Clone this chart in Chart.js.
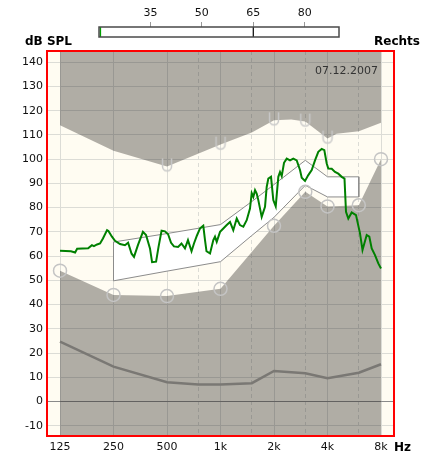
<!DOCTYPE html>
<html>
<head>
<meta charset="utf-8">
<script src="https://cdn.jsdelivr.net/npm/chart.js@4.4.1/dist/chart.umd.min.js"></script>
<style>
  html, body { margin: 0; padding: 0; background: #fff; }
  #wrap { position: relative; width: 423px; height: 455px; }
  #main, #scale { position: absolute; left: 0; top: 0; }
</style>
</head>
<body>
<div id="wrap">
  <canvas id="main" width="423" height="455"></canvas>
  <canvas id="scale" width="423" height="40"></canvas>
</div>
<script>
// axis ticks
const xTicks = [125, 250, 500, 750, 1000, 1500, 2000, 3000, 4000, 6000, 8000];
const xDashed = [750, 1500, 3000, 6000];
const xLabels = { 125: "125", 250: "250", 500: "500", 1000: "1k", 2000: "2k", 4000: "4k", 8000: "8k" };
const yTicks = [-10, 0, 10, 20, 30, 40, 50, 60, 70, 80, 90, 100, 110, 120, 130, 140];
const dateLabel = "07.12.2007";

// upper limit (UCL) curve + U markers
const uclFreq = [125, 250, 500, 1000, 1500, 2000, 2500, 3000, 4000, 4500, 6000, 8000];
const uclDb = [114, 103.5, 97, 106, 111, 116, 116.3, 115.5, 108.5, 110.5, 111.5, 115];
const uclMarkFreq = [500, 1000, 2000, 3000, 4000];
const uclMarkDb = [97, 106, 116, 115.5, 108.5];

// lower curve + circle markers
const lowFreq = [125, 250, 500, 1000, 2000, 3000, 4000, 6000, 8000];
const lowDb = [54, 44, 43.5, 46.5, 72.5, 86.5, 80.5, 81, 100];

// threshold line
const thrFreq = [125, 250, 500, 750, 1000, 1500, 2000, 3000, 4000, 6000, 8000];
const thrDb = [24.7, 14.4, 8, 7, 7, 7.6, 12.6, 11.7, 9.6, 11.9, 15.4];

// target band
const bandFreq = [250, 500, 1000, 1500, 2000, 3000, 4000, 6000];
const bandUpperDb = [65.8, 69.3, 73, 82.5, 89.5, 99.5, 92.7, 92.7];
const bandLowerDb = [49.8, 53.8, 57.7, 68.5, 76, 89.2, 84.4, 84.4];

// measured curve
const greenFreq = [125, 144, 152, 156, 180, 189, 194, 202, 210, 218, 230, 234, 245, 255, 272, 290, 302, 316, 326, 343,
  366, 381, 401, 412, 434, 448, 466, 487, 507, 527, 547, 577, 603, 631, 656, 687, 709, 737, 767, 800,
  818, 834, 873, 911, 931, 952, 994, 1037, 1084, 1131, 1180, 1234, 1287, 1344, 1404, 1465, 1498, 1530, 1564, 1598,
  1632, 1705, 1780, 1819, 1858, 1924, 1982, 2045, 2115, 2162, 2210, 2277, 2358, 2461, 2568, 2684, 2801, 2864, 2989, 3119,
  3260, 3402, 3550, 3710, 3838, 3959, 4042, 4224, 4408, 4600, 4808, 4985, 5083, 5237, 5472, 5786, 6094, 6295, 6647, 6875,
  7092, 7401, 7724, 8000];
const greenDb = [62.2, 62, 61.5, 63, 63.2, 64.5, 64.1, 64.8, 65.2, 67.3, 70.7, 70.4, 68, 66.3, 65, 64.5, 65.5, 61, 59.7, 64.5,
  70, 68.7, 63.2, 57.5, 57.7, 63.8, 70.5, 70.2, 69, 65.5, 64, 63.8, 65.2, 63.2, 66.6, 62, 65.2, 68.5, 71.4, 72.5,
  66.6, 62, 61.1, 66.6, 68, 65.9, 70, 71.4, 72.8, 74.1, 70.7, 75.5, 72.8, 72.1, 74.8, 79.6, 86, 84.4, 87.2, 85.8,
  83.1, 76.2, 80.3, 88.5, 92, 92.7, 83.1, 80.5, 92.7, 94.7, 93, 98.5, 100.2, 99.5, 100.2, 99.5, 95.5, 92.3, 91, 93.4,
  95.5, 99.5, 103, 104.2, 103.7, 98.2, 96.1, 96, 94.7, 94, 92.7, 92, 78.3, 75.5, 78, 76.9, 69.4, 62.5, 68.7, 68,
  63.2, 60.4, 57, 54.9];

// top level scale
const levelTicks = [35, 50, 65, 80];
const levelMark = 65;
const levelStart = 20.4;

const pts = (fs, ds) => fs.map((f, i) => ({ x: f, y: ds[i] }));

const bandPts = pts(bandFreq, bandUpperDb)
  .concat(pts(bandFreq, bandLowerDb).reverse())
  .concat([{ x: bandFreq[0], y: bandUpperDb[0] }]);

const grayFill = "rgba(22,21,19,0.34)";
const gridCol = "#dcdcd6";
const font11 = { family: "DejaVu Sans", size: 11 };

function makeU() {
  const c = document.createElement("canvas");
  c.width = 14;
  c.height = 26;
  const g = c.getContext("2d");
  g.strokeStyle = "#c8c8c8";
  g.lineWidth = 1.5;
  g.beginPath();
  g.moveTo(2.5, 5);
  g.lineTo(2.5, 13);
  g.arc(7, 13, 4.5, Math.PI, 0, true);
  g.lineTo(11.5, 5);
  g.stroke();
  return c;
}

const decor = {
  id: "decor",
  beforeDraw(chart) {
    const { ctx, chartArea: a } = chart;
    ctx.save();
    ctx.fillStyle = "#fffcf2";
    ctx.fillRect(a.left, a.top, a.right - a.left, a.bottom - a.top);
    ctx.restore();
  },
  afterDraw(chart) {
    const { ctx, chartArea: a } = chart;
    ctx.save();
    ctx.strokeStyle = "#ff0000";
    ctx.lineWidth = 2;
    ctx.strokeRect(a.left, a.top, a.right - a.left, a.bottom - a.top);
    ctx.fillStyle = "#000";
    ctx.textBaseline = "middle";
    ctx.font = 'bold 12px "DejaVu Sans"';
    ctx.textAlign = "left";
    ctx.fillText("dB SPL", 25, 42);
    ctx.textAlign = "right";
    ctx.fillText("Rechts", 420, 42);
    ctx.textAlign = "left";
    ctx.fillText("Hz", a.right, 448);
    ctx.font = '11px "DejaVu Sans"';
    ctx.fillStyle = "#333";
    ctx.textAlign = "right";
    ctx.fillText(dateLabel, a.right - 16, 71);
    ctx.restore();
  }
};

new Chart(document.getElementById("main"), {
  type: "line",
  data: {
    datasets: [
      { data: pts(greenFreq, greenDb), borderColor: "#008000", borderWidth: 2, pointRadius: 0, order: 0 },
      { data: pts(uclMarkFreq, uclMarkDb), showLine: false, pointStyle: makeU(), pointRadius: 7, order: 1 },
      { data: pts(lowFreq, lowDb), showLine: false, pointStyle: "circle", pointRadius: 6.5,
        pointBorderColor: "#c4c4c4", pointBackgroundColor: "rgba(0,0,0,0)", pointBorderWidth: 1.5, order: 1 },
      { data: pts(thrFreq, thrDb), borderColor: "#7a7874", borderWidth: 2.5, pointRadius: 0, order: 2 },
      { data: bandPts, borderColor: "#8c8c8c", borderWidth: 1, backgroundColor: "#ffffff", fill: "shape", pointRadius: 0, order: 3 },
      { data: pts(uclFreq, uclDb), borderColor: "rgba(0,0,0,0)", backgroundColor: grayFill, fill: "end", pointRadius: 0, order: 4 },
      { data: pts(lowFreq, lowDb), borderColor: "rgba(0,0,0,0)", backgroundColor: grayFill, fill: "start", pointRadius: 0, order: 4 }
    ]
  },
  options: {
    responsive: false,
    animation: false,
    layout: { padding: { left: 21, right: 29, top: 51, bottom: 0 } },
    plugins: { legend: { display: false }, tooltip: { enabled: false } },
    scales: {
      x: {
        type: "logarithmic",
        min: 105.6,
        max: 9467,
        bounds: "data",
        afterBuildTicks: (s) => { s.ticks = xTicks.map((v) => ({ value: v })); },
        afterFit: (s) => { s.height = 19; },
        grid: { color: gridCol, drawTicks: false },
        border: { display: false, dash: (c) => (c.tick && xDashed.includes(c.tick.value) ? [4, 3] : []) },
        ticks: { autoSkip: false, maxRotation: 0, padding: 5, color: "#111", font: font11,
          callback: (v) => xLabels[v] || "" }
      },
      y: {
        min: -14.2,
        max: 144.6,
        afterBuildTicks: (s) => { s.ticks = yTicks.map((v) => ({ value: v })); },
        afterFit: (s) => { s.width = 26; },
        grid: { color: (c) => (c.tick && c.tick.value === 0 ? "#8a8a8a" : gridCol), drawTicks: false },
        border: { display: false },
        ticks: { padding: 4, color: "#111", font: font11 }
      }
    }
  },
  plugins: [decor]
});

const boxBorder = {
  id: "boxBorder",
  afterDraw(chart) {
    const { ctx, chartArea: a } = chart;
    ctx.save();
    ctx.strokeStyle = "#4a4a4a";
    ctx.lineWidth = 1.5;
    ctx.strokeRect(a.left, a.top, a.right - a.left, a.bottom - a.top);
    ctx.restore();
  }
};

new Chart(document.getElementById("scale"), {
  type: "line",
  data: {
    datasets: [
      { data: [{ x: levelMark, y: 0 }, { x: levelMark, y: 1 }], borderColor: "#000", borderWidth: 1.2, pointRadius: 0 },
      { data: [{ x: levelStart, y: 0 }, { x: levelStart, y: 1 }], borderColor: "#00a000", borderWidth: 1.5, pointRadius: 0 }
    ]
  },
  options: {
    responsive: false,
    animation: false,
    layout: { padding: { left: 99, right: 84, top: 7, bottom: 3 } },
    plugins: { legend: { display: false }, tooltip: { enabled: false } },
    scales: {
      x: {
        type: "linear",
        position: "top",
        min: 20,
        max: 90,
        afterBuildTicks: (s) => { s.ticks = levelTicks.map((v) => ({ value: v })); },
        afterFit: (s) => { s.height = 20; },
        grid: { drawOnChartArea: false, drawTicks: true, tickLength: 5, color: "#999" },
        border: { display: false },
        ticks: { autoSkip: false, maxRotation: 0, padding: 2, color: "#111", font: font11 }
      },
      y: { display: false, min: 0, max: 1 }
    }
  },
  plugins: [boxBorder]
});
</script>
</body>
</html>
